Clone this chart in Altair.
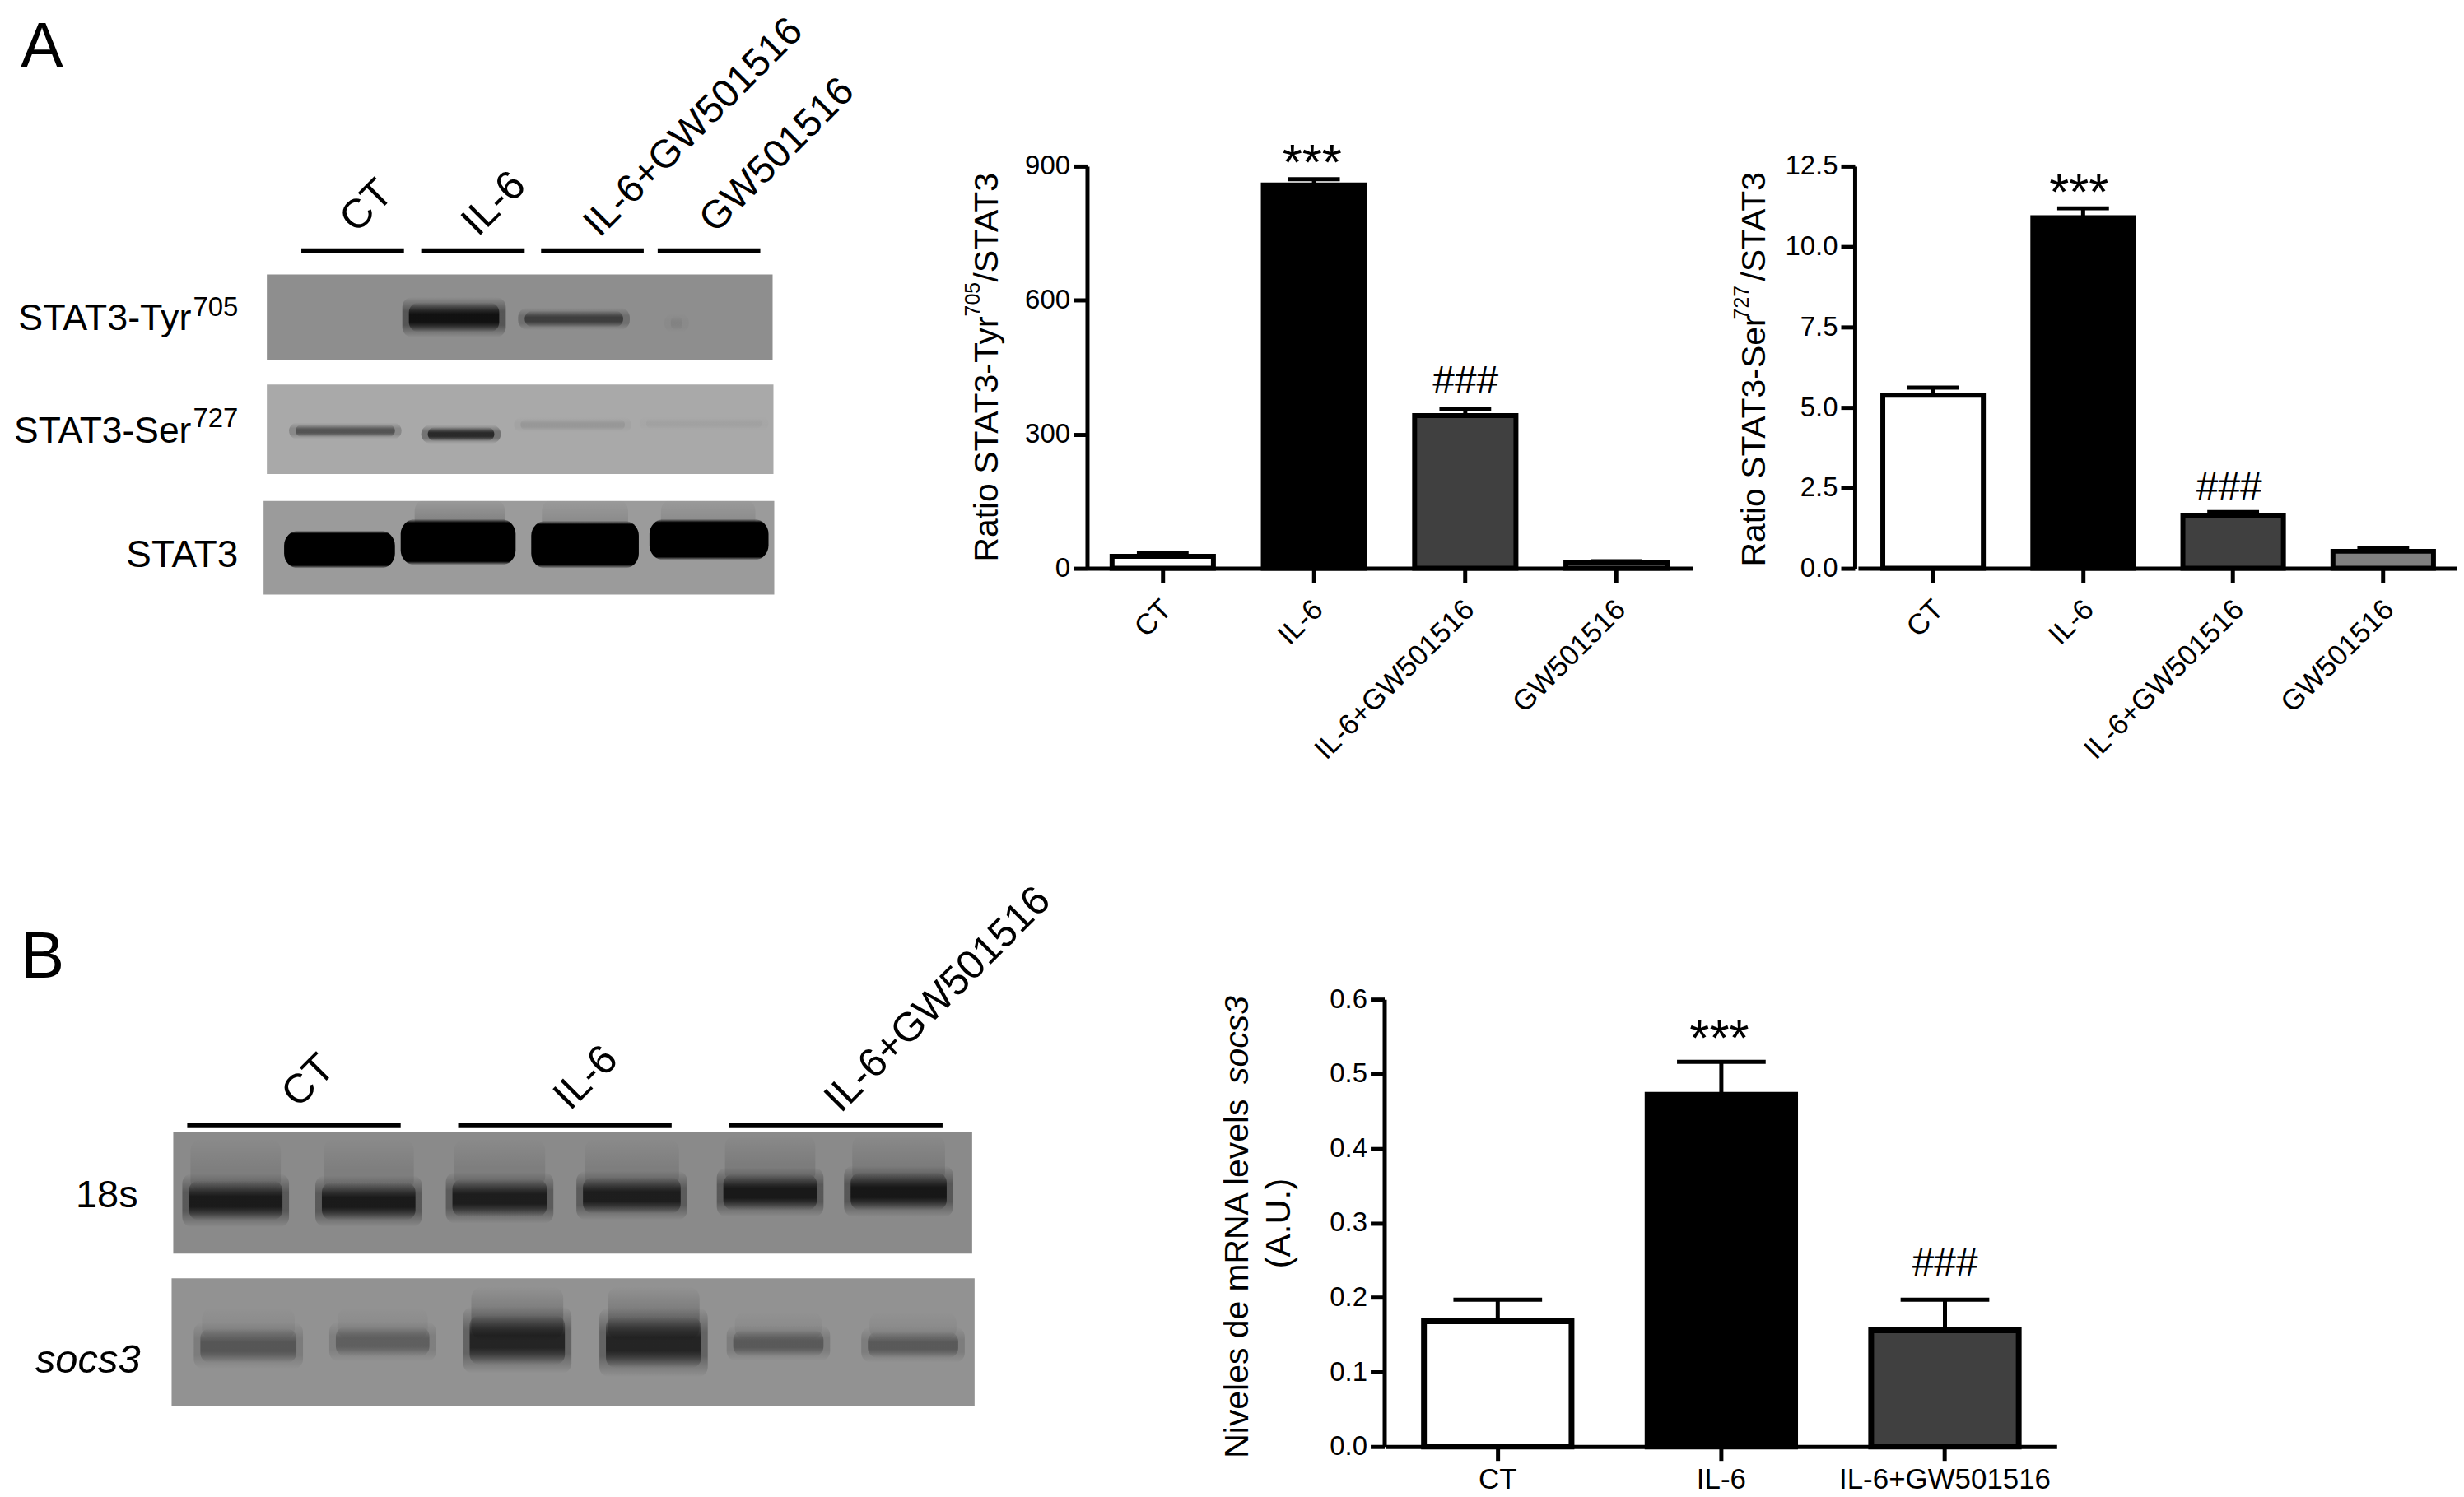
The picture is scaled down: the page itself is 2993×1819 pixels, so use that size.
import altair as alt

FONT = "Liberation Sans"
W, H = 2985, 1810
M = 8  # page margin

# ---------- bar data ----------
cats4 = ["CT", "IL-6", "IL-6+GW501516", "GW501516"]
cats3 = ["CT", "IL-6", "IL-6+GW501516"]
tyr_vals = [27, 858, 342, 13]
tyr_tops = [35, 871, 356, 16]
ser_vals = [5.38, 10.9, 1.65, 0.53]
ser_tops = [5.62, 11.19, 1.75, 0.62]
socs_vals = [0.168, 0.472, 0.156]
socs_tops = [0.197, 0.516, 0.197]
fills = ["#ffffff", "#000000", "#404040", "#808080"]

# ---------- blot data (source-picture coordinates, darkness 0-1) ----------
blot_x0 = [325, 325, 321, 211, 209]
blot_x1 = [941, 942, 943, 1184, 1187]
blot_y0 = [332, 466, 608, 1377, 1555]
blot_y1 = [436, 575, 722, 1525, 1711]
blot_bg = ["#8e8e8e", "#a9a9a9", "#9b9b9b", "#8a8a8a", "#929292"]

# smears above the strongest bands
haze_x0 = [505, 660, 805, 232, 394, 553, 712, 883, 1038, 574, 740, 246, 411, 895, 1059]
haze_x1 = [615, 765, 920, 342, 504, 664, 827, 993, 1151, 686, 852, 359, 521, 1001, 1165]
haze_y0 = [606, 606, 606, 1385, 1385, 1385, 1385, 1380, 1380, 1565, 1565, 1590, 1590, 1595, 1595]
haze_y1 = [650, 650, 650, 1450, 1450, 1445, 1445, 1440, 1440, 1630, 1630, 1630, 1630, 1630, 1630]
haze_dark = [0.16, 0.1, 0.1, 0.09, 0.09, 0.09, 0.09, 0.1, 0.1, 0.2, 0.2, 0.05, 0.05, 0.05, 0.05]

band_x0 = [496, 637, 815, 358, 519, 632, 785,
           346, 488, 647, 791,
           228, 390, 549, 708, 879, 1034,
           242, 407, 570, 736, 891, 1055]
band_x1 = [610, 761, 833, 483, 604, 763, 930,
           481, 628, 778, 936,
           346, 508, 668, 831, 997, 1155,
           363, 525, 690, 856, 1005, 1169]
band_y0 = [366, 376, 382, 515, 518, 508, 507,
           644, 630, 632, 630,
           1436, 1438, 1434, 1432, 1428, 1426,
           1616, 1614, 1600, 1602, 1618, 1620]
band_y1 = [402, 396, 400, 530, 535, 522, 520,
           690, 686, 690, 680,
           1484, 1484, 1480, 1476, 1472, 1472,
           1658, 1650, 1660, 1664, 1650, 1652]
band_dark = [1, 0.55, 0.07, 0.48, 0.8, 0.09, 0.04,
             1, 1, 1, 1,
             0.88, 0.88, 0.85, 0.85, 0.9, 0.92,
             0.38, 0.32, 0.8, 0.8, 0.36, 0.36]
band_sharp = [0, 0, 0, 0, 0, 0, 0,
              1, 1, 1, 1,
              0, 0, 0, 0, 0, 0,
              0, 0, 0, 0, 0, 0]

# ---------- lane bars above blots ----------
line_x0 = [367, 513, 659, 801, 228, 558, 888]
line_x1 = [492, 639, 784, 926, 488, 818, 1148]
line_y = [303, 303, 303, 303, 1369, 1369, 1369]

# ---------- text ----------
# text, x, y (source picture), size, angle, align, style
texts = [
    ("A", 25, 80, 78, 0, "left", "normal"),
    ("B", 25, 1189, 80, 0, "left", "normal"),
    ("CT", 434, 283, 50, 315, "left", "normal"),
    ("IL-6", 582, 287, 50, 315, "left", "normal"),
    ("IL-6+GW501516", 730, 288, 48, 315, "left", "normal"),
    ("GW501516", 871, 283, 48, 315, "left", "normal"),
    ("STAT3-Tyr", 233, 400, 45, 0, "right", "normal"),
    ("705", 235, 383, 33, 0, "left", "normal"),
    ("STAT3-Ser", 233, 537, 44.5, 0, "right", "normal"),
    ("727", 235, 518, 33, 0, "left", "normal"),
    ("STAT3", 290, 688, 46, 0, "right", "normal"),
    ("18s", 168, 1468, 47, 0, "right", "normal"),
    ("socs3", 171, 1670, 49, 0, "right", "italic"),
    ("CT", 363, 1349, 50, 315, "left", "normal"),
    ("IL-6", 694, 1352, 50, 315, "left", "normal"),
    ("IL-6+GW501516", 1024, 1355, 49.5, 315, "left", "normal"),
    ("Ratio STAT3-Tyr", 1215, 682, 41, 270, "left", "normal"),
    ("705", 1193, 383, 25, 270, "left", "normal"),
    ("/STAT3", 1215, 341, 41, 270, "left", "normal"),
    ("Ratio STAT3-Ser", 2150, 688, 41, 270, "left", "normal"),
    ("727", 2130, 387, 25, 270, "left", "normal"),
    ("/STAT3", 2150, 340, 41, 270, "left", "normal"),
    ("Niveles de mRNA levels", 1520, 1774, 41, 270, "left", "normal"),
    ("socs3", 1520, 1318, 41, 270, "left", "italic"),
    ("(A.U.)", 1571, 1488, 42, 270, "center", "normal"),
    ("***", 1598, 216, 62, 0, "center", "normal"),
    ("###", 1785, 477, 48, 0, "center", "normal"),
    ("***", 2532, 252, 62, 0, "center", "normal"),
    ("###", 2715, 606, 48, 0, "center", "normal"),
    ("***", 2094, 1283, 62, 0, "center", "normal"),
    ("###", 2369, 1552, 48, 0, "center", "normal"),
]

layers = []
canvas_x = alt.Scale(domain=[M, M + W], range=[0, W])
canvas_y = alt.Scale(domain=[M, M + H], range=[0, H])


def rect_layer(rows, **mark):
    return alt.Chart(alt.Data(values=rows)).mark_rect(**mark).encode(
        x=alt.X("x0:Q", scale=canvas_x, axis=None),
        x2="x1:Q",
        y=alt.Y("y0:Q", scale=canvas_y, axis=None),
        y2="y1:Q",
    )


def grad(dark, p, q):
    colour = f"rgba(0,0,0,{dark})"
    clear = "rgba(0,0,0,0)"
    return {
        "gradient": "linear", "x1": 0, "y1": 0, "x2": 0, "y2": 1,
        "stops": [
            {"offset": 0, "color": clear},
            {"offset": p, "color": colour},
            {"offset": q, "color": colour},
            {"offset": 1, "color": clear},
        ],
    }


# blots
for a, b, c, d, bg in zip(blot_x0, blot_x1, blot_y0, blot_y1, blot_bg):
    layers.append(rect_layer([{"x0": a, "x1": b, "y0": c, "y1": d}], fill=bg))

for a, b, c, d, dark in zip(haze_x0, haze_x1, haze_y0, haze_y1, haze_dark):
    layers.append(rect_layer([{"x0": a, "x1": b, "y0": c, "y1": d}],
                             fill=grad(dark, 0.6, 0.8), cornerRadius=14))

for a, b, c, d, dark, sharp in zip(band_x0, band_x1, band_y0, band_y1, band_dark, band_sharp):
    pad = 0.18 * (d - c)
    if sharp:
        layers.append(rect_layer([{"x0": a, "x1": b, "y0": c, "y1": d}],
                                 fill=grad(dark, 0.08, 0.92), cornerRadius=18))
    else:
        layers.append(rect_layer([{"x0": a - 6, "x1": b + 6, "y0": c - pad, "y1": d + pad}],
                                 fill=grad(dark * 0.4, 0.35, 0.7), cornerRadius=12))
        layers.append(rect_layer([{"x0": a + 2, "x1": b - 2, "y0": c, "y1": d}],
                                 fill=grad(dark * 0.8, 0.4, 0.66), cornerRadius=12))

# lane bars
layers.append(
    alt.Chart(alt.Data(values=[
        {"x0": a, "x1": b, "y": c} for a, b, c in zip(line_x0, line_x1, line_y)
    ])).mark_rule(color="black", strokeWidth=6).encode(
        x=alt.X("x0:Q", scale=canvas_x, axis=None),
        x2="x1:Q",
        y=alt.Y("y:Q", scale=canvas_y, axis=None),
    )
)


# bar panels
def panel(cats, vals, tops, axis_x, x_range, y_range, ymax, ticks, fmt, pad, stroke,
          cap, label_angle, label_size, label_offset):
    rows = [{"c": c, "v": v, "t": t} for c, v, t in zip(cats, vals, tops)]
    data = alt.Data(values=rows)
    xs = alt.Scale(domain=cats, range=[x_range[0] - M, x_range[1] - M],
                   paddingInner=pad, paddingOuter=pad / 2)
    ys = alt.Scale(domain=[0, ymax], range=[y_range[0] - M, y_range[1] - M], nice=False)
    x_axis = alt.Axis(
        orient="bottom", offset=(y_range[0] - M) - H, title=None, domainWidth=5,
        domainColor="black", tickColor="black", tickWidth=5, tickSize=17,
        labelFont=FONT, labelFontSize=label_size, labelColor="black",
        labelAngle=label_angle, labelAlign="right" if label_angle else "center",
        labelBaseline="top", labelPadding=15 if label_angle else 6,
        labelOffset=label_offset, labelOverlap=False, labelLimit=0, grid=False,
    )
    y_axis = alt.Axis(
        orient="left", offset=-(axis_x - M), title=None, domainWidth=5,
        domainColor="black", tickColor="black", tickWidth=5, tickSize=17,
        labelFont=FONT, labelFontSize=33, labelColor="black", labelPadding=4,
        values=ticks, format=fmt, grid=False,
    )
    base = alt.Chart(data)
    return [
        base.mark_rule(color="black", strokeWidth=5).encode(
            x=alt.X("c:N", scale=xs, axis=x_axis, sort=cats),
            y=alt.Y("v:Q", scale=ys, axis=y_axis),
            y2="t:Q",
        ),
        base.mark_tick(color="black", thickness=5, size=cap, opacity=1).encode(
            x=alt.X("c:N", scale=xs, axis=None, sort=cats),
            y=alt.Y("t:Q", scale=ys, axis=None),
        ),
        base.mark_bar(stroke="black", strokeWidth=stroke, opacity=1).encode(
            x=alt.X("c:N", scale=xs, axis=None, sort=cats),
            y=alt.Y("v:Q", scale=ys, axis=None),
            color=alt.Color("c:N", scale=alt.Scale(domain=cats, range=fills[:len(cats)]), legend=None),
        ),
    ]


layers += panel(cats4, tyr_vals, tyr_tops, 1324, (1324, 2061), (690, 200), 900,
                [0, 300, 600, 900], "d", 0.33, 6, 63, 315, 35, -7)
layers += panel(cats4, ser_vals, ser_tops, 2259, (2263, 2994), (690, 200), 12.5,
                [0, 2.5, 5, 7.5, 10, 12.5], ".1f", 0.33, 6, 63, 315, 35, -5)
layers += panel(cats3, socs_vals, socs_tops, 1686, (1688, 2505), (1760, 1215), 0.6,
                [0, 0.1, 0.2, 0.3, 0.4, 0.5, 0.6], ".1f", 0.34, 7, 108, 0, 35, 0)

# text
for t, x, y, size, angle, align, style in texts:
    layers.append(
        alt.Chart(alt.Data(values=[{"t": t}])).mark_text(
            font=FONT, fontSize=size, angle=angle, align=align, baseline="alphabetic",
            fontStyle=style, color="black",
        ).encode(x=alt.value(x - M), y=alt.value(y - M), text="t:N")
    )

chart = (
    alt.layer(*layers)
    .resolve_scale(x="independent", y="independent", color="independent")
    .resolve_axis(x="independent", y="independent")
    .properties(width=W, height=H, padding=0, background="white",
                autosize=alt.AutoSizeParams(type="none"))
    .configure_view(stroke="transparent", strokeWidth=0)
)
chart.save("out.html", embed_options={"renderer": "svg", "actions": False})
